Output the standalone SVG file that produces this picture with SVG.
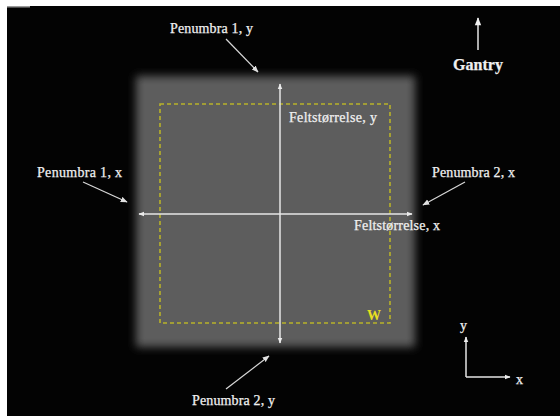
<svg xmlns="http://www.w3.org/2000/svg" width="560" height="416" viewBox="0 0 560 416">
<style>
.lbl{font-family:"Liberation Serif","Times New Roman",serif;font-size:14px;fill:#f0f0f0;stroke:#f0f0f0;stroke-width:0.25}
.ln{stroke:#e6e6e6;stroke-width:1.5;fill:none}
.ptr{stroke:#d8d8d8;stroke-width:1.2;fill:none}
</style>
<defs>
<marker id="ah" viewBox="0 0 10 10" refX="9" refY="5" markerWidth="6" markerHeight="6" orient="auto-start-reverse" markerUnits="userSpaceOnUse">
<path d="M0,1 L10,5 L0,9 z" fill="#ececec"/>
</marker>
<marker id="ahg" viewBox="0 0 10 10" refX="9" refY="5" markerWidth="9" markerHeight="8" orient="auto" markerUnits="userSpaceOnUse">
<path d="M0,1 L10,5 L0,9 z" fill="#f0f0f0"/>
</marker>
<marker id="ahs" viewBox="0 0 10 10" refX="9" refY="5" markerWidth="7" markerHeight="7" orient="auto" markerUnits="userSpaceOnUse">
<path d="M0,1 L10,5 L0,9 z" fill="#e0e0e0"/>
</marker>
<filter id="blur" x="-20%" y="-20%" width="140%" height="140%"><feGaussianBlur stdDeviation="4"/></filter>
</defs>
<rect x="0" y="0" width="560" height="416" fill="#ffffff"/>
<rect x="7" y="6" width="553" height="410" fill="#030303"/>
<rect x="7" y="6" width="23" height="1.5" fill="#9a9a9a"/>
<g id="field">
<rect x="136" y="76" width="279" height="271" fill="#5d5d5d" filter="url(#blur)"/>
<rect x="160" y="104" width="230" height="219" fill="none" stroke="#b8b22a" stroke-width="1.6" stroke-dasharray="4,3"/>
<text x="367" y="320" style="font-family:'Liberation Serif','Times New Roman',serif;font-weight:bold;font-size:14px;fill:#e8e020">W</text>
</g>
<g id="connectors">
<line class="ln" x1="280" y1="84" x2="280" y2="343" marker-start="url(#ah)" marker-end="url(#ah)"/>
<line class="ln" x1="139" y1="214" x2="412" y2="214" marker-start="url(#ah)" marker-end="url(#ah)"/>
<line class="ptr" x1="226" y1="39" x2="258" y2="72" marker-end="url(#ahs)"/>
<line class="ptr" x1="83" y1="182" x2="127" y2="202" marker-end="url(#ahs)"/>
<line class="ptr" x1="465" y1="182" x2="423" y2="205" marker-end="url(#ahs)"/>
<line class="ptr" x1="226" y1="389" x2="269" y2="356" marker-end="url(#ahs)"/>
<line class="ln" x1="478" y1="50" x2="478" y2="18" stroke-width="2.2" marker-end="url(#ahg)"/>
<line class="ln" x1="466" y1="377" x2="466" y2="337" marker-end="url(#ah)"/>
<line class="ln" x1="466" y1="377" x2="510" y2="377" marker-end="url(#ah)"/>
</g>
<g id="penumbra1y"><text class="lbl" x="170" y="33" textLength="83">Penumbra 1, y</text></g>
<g id="penumbra1x"><text class="lbl" x="37" y="177" textLength="85">Penumbra 1, x</text></g>
<g id="penumbra2x"><text class="lbl" x="432" y="177" textLength="83">Penumbra 2, x</text></g>
<g id="penumbra2y"><text class="lbl" x="192" y="405" textLength="83">Penumbra 2, y</text></g>
<g id="feltY"><text class="lbl" x="289" y="122" textLength="88">Feltstørrelse, y</text></g>
<g id="feltX"><text class="lbl" x="354" y="230" textLength="86">Feltstørrelse, x</text></g>
<g id="gantry"><text class="lbl" x="453" y="70" textLength="50" style="font-size:16px;font-weight:bold">Gantry</text></g>
<g id="axis-y"><text class="lbl" x="460" y="330">y</text></g>
<g id="axis-x"><text class="lbl" x="516" y="384">x</text></g>
</svg>
